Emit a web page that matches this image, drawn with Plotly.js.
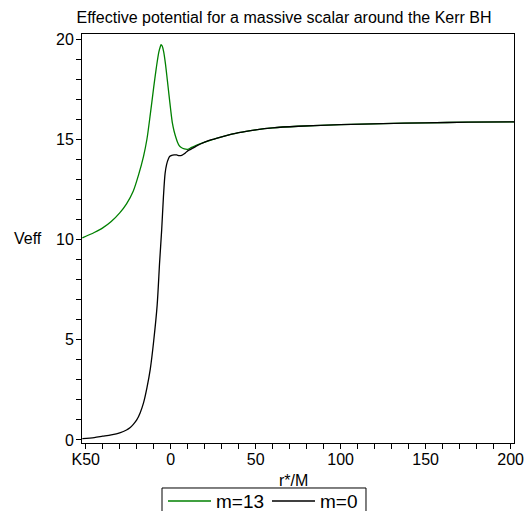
<!DOCTYPE html>
<html>
<head>
<meta charset="utf-8">
<script src="https://cdn.plot.ly/plotly-3.0.1.min.js"></script>
<style>html,body{margin:0;padding:0;background:#fff}#chart{width:525px;height:511px}</style>
</head>
<body>
<div id="chart"></div>
<script>
// m=13 curve
var xM13 = [-52, -45, -40, -35, -30, -26, -22, -19, -16, -14, -12, -10, -8.5, -7, -6, -5.7, -5, -4, -3, -2, -1, 0, 1, 2, 3, 4, 5, 6, 8, 10, 12, 15, 20, 25, 30, 40, 50, 60, 75, 100, 125, 150, 175, 202];
var yM13 = [10.08, 10.35, 10.58, 10.9, 11.33, 11.78, 12.42, 13.2, 14.15, 15.0, 16.25, 17.6, 18.55, 19.35, 19.65, 19.72, 19.65, 19.3, 18.7, 17.96, 17.2, 16.46, 15.8, 15.4, 15.1, 14.85, 14.68, 14.6, 14.52, 14.5, 14.58, 14.7, 14.86, 15.0, 15.12, 15.33, 15.47, 15.57, 15.65, 15.73, 15.78, 15.82, 15.85, 15.87];
// m=0 curve
var xM0 = [-52, -45, -40, -35, -30, -26, -24, -22, -20, -18, -16, -14, -12, -10, -8, -6.5, -5.3, -4.3, -3.3, -2.4, -1.4, -0.5, 0.6, 2, 3.5, 5, 6.5, 8, 9.4, 11, 13.3, 15, 20, 25, 30, 40, 50, 60, 75, 100, 125, 150, 175, 202];
var yM0 = [0.07, 0.12, 0.19, 0.26, 0.36, 0.5, 0.61, 0.78, 1.0, 1.35, 1.85, 2.6, 3.55, 4.95, 6.7, 8.9, 10.5, 12.1, 13.3, 13.75, 14.02, 14.15, 14.2, 14.22, 14.22, 14.18, 14.2, 14.28, 14.38, 14.47, 14.57, 14.66, 14.86, 15.0, 15.12, 15.33, 15.47, 15.57, 15.65, 15.73, 15.78, 15.82, 15.85, 15.87];
var seriesNames = ["m=13", "m=0"];
// tick positions (every 10 on x, every 1 on y) and their labels
var xTickVals = [-50, -40, -30, -20, -10, 0, 10, 20, 30, 40, 50, 60, 70, 80, 90, 100, 110, 120, 130, 140, 150, 160, 170, 180, 190, 200];
var xTickText = ["K50", "", "", "", "", "0", "", "", "", "", "50", "", "", "", "", "100", "", "", "", "", "150", "", "", "", "", "200"];
var yTickVals = [0, 1, 2, 3, 4, 5, 6, 7, 8, 9, 10, 11, 12, 13, 14, 15, 16, 17, 18, 19, 20];
var yTickText = ["0", "", "", "", "", "5", "", "", "", "", "10", "", "", "", "", "15", "", "", "", "", "20"];

var FONT = "Liberation Sans, Arial, sans-serif";
var traces = [
  {x: xM13, y: yM13, name: seriesNames[0], mode: "lines", type: "scatter",
   line: {color: "#008000", width: 1.3, shape: "spline", smoothing: 0.8}},
  {x: xM0, y: yM0, name: seriesNames[1], mode: "lines", type: "scatter",
   line: {color: "#000000", width: 1.3, shape: "spline", smoothing: 0.8}}
];
var axisCommon = {
  showline: true, linecolor: "#000", linewidth: 1, mirror: true,
  showgrid: false, zeroline: false,
  ticks: "outside", ticklen: 5, tickwidth: 1, tickcolor: "#000",
  tickfont: {family: FONT, size: 16, color: "#000"}
};
var layout = {
  width: 525, height: 511,
  margin: {l: 82, r: 11, t: 34, b: 68, autoexpand: false},
  paper_bgcolor: "#fff", plot_bgcolor: "#fff",
  font: {family: FONT, size: 16, color: "#000"},
  title: {text: "Effective potential for a massive scalar around the Kerr BH",
          font: {family: FONT, size: 16, color: "#000"},
          xref: "container", x: 0.541, xanchor: "center",
          yref: "container", y: 0.965, yanchor: "middle"},
  xaxis: Object.assign({}, axisCommon, {
    range: [-52.2, 202], tickmode: "array", tickvals: xTickVals, ticktext: xTickText,
    ticklabelstandoff: -3
  }),
  yaxis: Object.assign({}, axisCommon, {
    range: [-0.15, 20.25], tickmode: "array", tickvals: yTickVals, ticktext: yTickText,
    ticklabelstandoff: -1
  }),
  showlegend: true,
  legend: {orientation: "h", x: 0.1875, xanchor: "left", y: -0.0957, yanchor: "top",
           borderwidth: 0, bgcolor: "rgba(0,0,0,0)",
           itemwidth: 43, entrywidth: 46,
           font: {family: FONT, size: 19, color: "#000"}},
  shapes: [
    // legend frame (its bottom edge runs past the picture, as in the reference)
    {type: "rect", xref: "paper", yref: "paper", x0: 0.1852, x1: 0.6574, y0: -0.11, y1: -0.2,
     line: {color: "#000", width: 1}, fillcolor: "rgba(0,0,0,0)", layer: "above"}
  ],
  annotations: [
    {text: "Veff", xref: "paper", x: -0.125, yref: "y", y: 10.05, xanchor: "center", yanchor: "middle",
     showarrow: false, font: {family: FONT, size: 16, color: "#000"}},
    {text: "r*/M", xref: "paper", x: 0.4907, yref: "paper", y: -0.0905, xanchor: "center", yanchor: "middle",
     showarrow: false, font: {family: FONT, size: 16, color: "#000"}}
  ]
};
Plotly.newPlot("chart", traces, layout, {displayModeBar: false, staticPlot: true});
</script>
</body>
</html>
